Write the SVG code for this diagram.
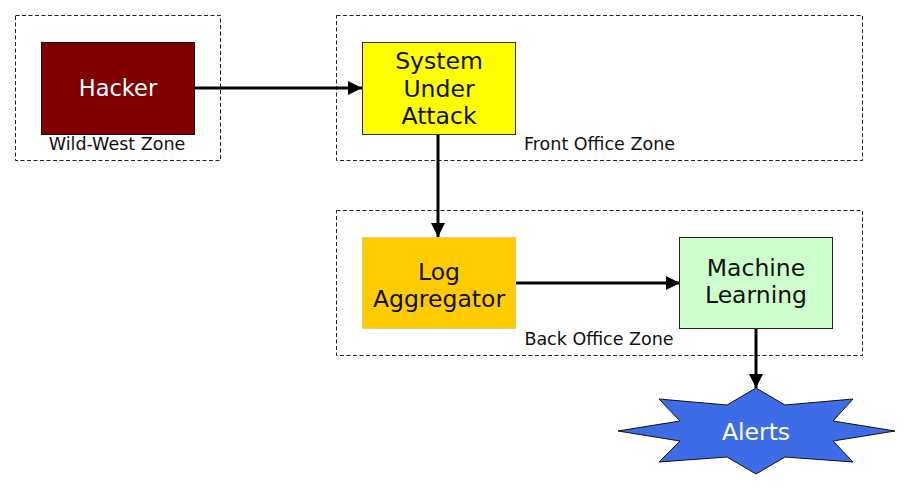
<svg xmlns="http://www.w3.org/2000/svg" width="909" height="489" viewBox="0 0 909 489">
<style>
.zone{fill:none;stroke:#222;stroke-width:1;stroke-dasharray:4 2.5}
.zl{font-family:"DejaVu Sans",Verdana,sans-serif;font-size:17.5px;fill:#111;text-anchor:middle}
.nl{font-family:"DejaVu Sans",Verdana,sans-serif;font-size:23.5px;text-anchor:middle}
.dark{fill:#111}
.light{fill:#fff}
.conn{stroke:#000;stroke-width:3;fill:none}
</style>
<defs>
<marker id="ah" markerUnits="userSpaceOnUse" markerWidth="15" markerHeight="15" refX="14" refY="7" orient="auto">
<path d="M0,0 L14,7 L0,14 z" fill="#000"/>
</marker>
</defs>
<rect width="909" height="489" fill="#fff"/>
<g id="zone-wildwest">
<rect class="zone" x="15.5" y="15.5" width="205" height="145"/>
<text class="zl" x="117" y="150">Wild-West Zone</text>
</g>
<g id="zone-frontoffice">
<rect class="zone" x="336.5" y="15.5" width="526" height="145"/>
<text class="zl" x="599.5" y="150">Front Office Zone</text>
</g>
<g id="zone-backoffice">
<rect class="zone" x="336.5" y="210.5" width="526" height="145"/>
<text class="zl" x="599" y="345">Back Office Zone</text>
</g>
<g id="connectors">
<line class="conn" x1="194" y1="88" x2="362" y2="88" marker-end="url(#ah)"/>
<line class="conn" x1="438" y1="134" x2="438" y2="237" marker-end="url(#ah)"/>
<line class="conn" x1="515" y1="283" x2="680" y2="283" marker-end="url(#ah)"/>
<line class="conn" x1="756" y1="329" x2="756" y2="388" marker-end="url(#ah)"/>
</g>
<g id="hacker">
<rect x="41.5" y="42.5" width="153" height="92" fill="#800000" stroke="#111" stroke-width="1"/>
<text class="nl light" x="118" y="96" style="font-size:22.5px">Hacker</text>
</g>
<g id="system-under-attack">
<rect x="362.5" y="42.5" width="153" height="92" fill="#ffff00" stroke="#333" stroke-width="1"/>
<text class="nl dark" x="439" y="69">System</text>
<text class="nl dark" x="439" y="97">Under</text>
<text class="nl dark" x="439" y="124">Attack</text>
</g>
<g id="log-aggregator">
<rect x="362.5" y="237.5" width="153" height="91" fill="#ffcc00" stroke="#e8cc77" stroke-width="1"/>
<text class="nl dark" x="439" y="280">Log</text>
<text class="nl dark" x="439" y="307">Aggregator</text>
</g>
<g id="machine-learning">
<rect x="679.5" y="237.5" width="153" height="91" fill="#ccffcc" stroke="#222" stroke-width="1"/>
<text class="nl dark" x="756" y="276">Machine</text>
<text class="nl dark" x="756" y="303">Learning</text>
</g>
<g id="alerts">
<polygon points="756,388 785,405 853,399 833,421 895,431 833,441 853,462 785,457 756,474 727,457 659,462 680,441 618,431 680,421 659,399 727,405" fill="#3d6ce6" stroke="#111" stroke-width="1"/>
<text class="nl light" x="756" y="440">Alerts</text>
</g>
</svg>
